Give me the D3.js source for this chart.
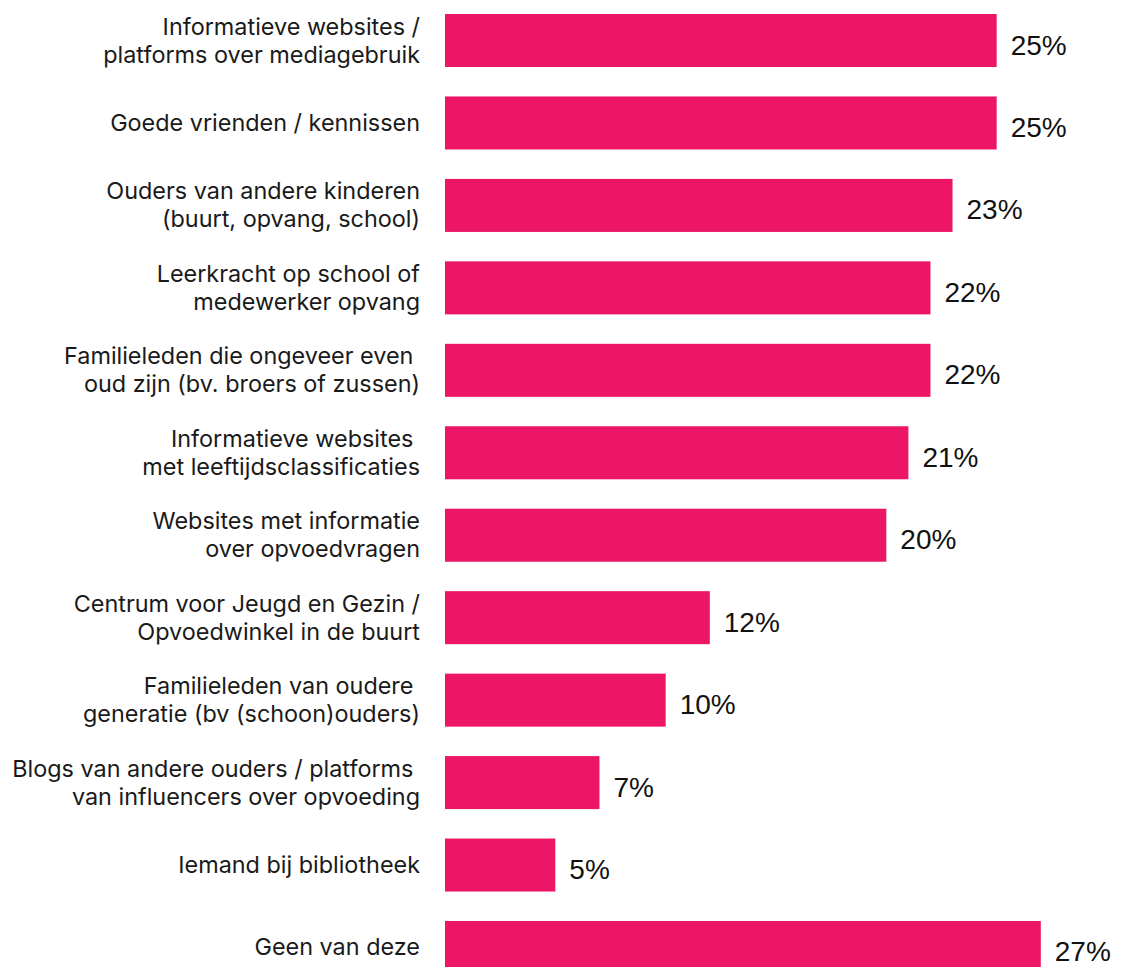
<!DOCTYPE html>
<html>
<head>
<meta charset="utf-8">
<script src="https://cdn.jsdelivr.net/npm/d3@7"></script>
<style>
  html, body { margin: 0; padding: 0; background: #ffffff; overflow: hidden; }
  svg { display: block; }
</style>
</head>
<body>
<svg id="chart" width="1122" height="967"></svg>
<script>
// Categories (each entry holds the label lines as they wrap)
const categories = [
  ["Informatieve websites /", "platforms over mediagebruik"],
  ["Goede vrienden / kennissen"],
  ["Ouders van andere kinderen", "(buurt, opvang, school)"],
  ["Leerkracht op school of", "medewerker opvang"],
  ["Familieleden die ongeveer even ", "oud zijn (bv. broers of zussen)"],
  ["Informatieve websites ", "met leeftijdsclassificaties"],
  ["Websites met informatie", "over opvoedvragen"],
  ["Centrum voor Jeugd en Gezin /", "Opvoedwinkel in de buurt"],
  ["Familieleden van oudere ", "generatie (bv (schoon)ouders)"],
  ["Blogs van andere ouders / platforms ", "van influencers over opvoeding"],
  ["Iemand bij bibliotheek"],
  ["Geen van deze"]
];
// Share of respondents (%)
const values = [25, 25, 23, 22, 22, 21, 20, 12, 10, 7, 5, 27];

const svg = d3.select("#chart");
const ids = d3.range(categories.length);

const x = d3.scaleLinear().domain([0, 30]).range([445, 1107]);
const y = d3.scaleBand().domain(ids).range([14, 974]).paddingInner(0.357).paddingOuter(0);

const barColor = "#ED1566";

// Bars
svg.append("g")
  .selectAll("rect")
  .data(ids)
  .join("rect")
  .attr("x", x(0))
  .attr("y", i => y(i))
  .attr("width", i => x(values[i]) - x(0))
  .attr("height", y.bandwidth())
  .attr("fill", barColor);

// Value labels
svg.append("g")
  .selectAll("text")
  .data(ids)
  .join("text")
  .attr("x", i => x(values[i]) + 14)
  .attr("y", i => y(i) + y.bandwidth() / 2 + 14)
  .attr("font-family", "'Liberation Sans', Arial, sans-serif")
  .attr("font-size", 28)
  .attr("fill", "#111")
  .text(i => values[i] + "%");

// Category labels, right aligned against the bars
const lineGap = 28;
const labels = svg.append("g")
  .selectAll("text")
  .data(ids)
  .join("text")
  .attr("text-anchor", "end")
  .attr("font-family", "Inter, 'Noto Sans', sans-serif")
  .attr("font-size", 23.4)
  .attr("fill", "#1a1a1a")
  .style("white-space", "pre")
  .attr("y", i => {
    const n = categories[i].length;
    const c = y(i) + y.bandwidth() / 2;
    return c - (n - 1) * lineGap / 2 + 8;
  });

labels.selectAll("tspan")
  .data(i => categories[i].map((t, k) => ({ t, k })))
  .join("tspan")
  .attr("x", 420)
  .attr("dy", d => d.k === 0 ? 0 : lineGap)
  .text(d => d.t);
</script>
</body>
</html>
